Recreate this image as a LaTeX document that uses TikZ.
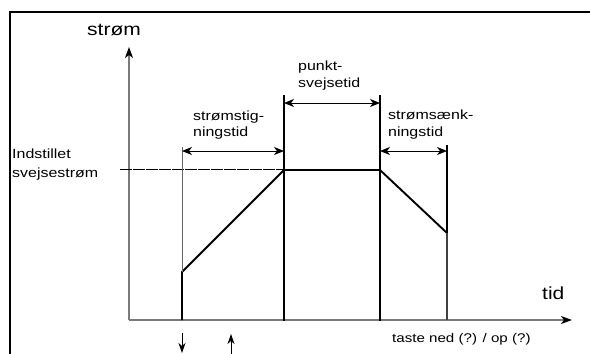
\documentclass[tikz,border=0pt]{standalone}
\usepackage{fontspec}
\setmainfont{Liberation Sans}[FakeStretch=1.2]
\usetikzlibrary{arrows.meta}
\definecolor{axisgray}{HTML}{7A7A7A}
\begin{document}
\begin{tikzpicture}[x=1pt,y=-1pt,
  axisline/.style={draw=axisgray,line width=1.4pt},
  axistip/.style={-{Stealth[length=11pt,width=8pt,inset=3pt,color=black]}},
  heavy/.style={line width=1.9pt,line cap=rect},
  guide/.style={draw=black!60,line width=0.6pt},
  dimline/.style={line width=1pt,{Stealth[length=10pt,width=8pt,inset=3pt]}-{Stealth[length=10pt,width=8pt,inset=3pt]}},
  marker/.style={line width=1pt,-{Stealth[length=10pt,width=7pt,inset=3pt]}},
  lbl/.style={inner sep=0pt,anchor=base west,font=\fontsize{13.3}{16}\selectfont},
  biglbl/.style={inner sep=0pt,anchor=base west,font=\fontsize{17.5}{20}\selectfont}]
\useasboundingbox (0,0) rectangle (590,354);

% frame
\draw[line width=1.6pt] (10,354) -- (10,12) -- (590,12);

% axes
\coordinate (O) at (129,320);
\coordinate (ytop) at (129,47);
\coordinate (xend) at (572,320);
\draw[axisline,axistip] (O) -- (ytop);
\draw[axisline,axistip] (O) -- (xend);
\node[biglbl] (ylab) at (87,35) {strøm};
\node[biglbl] (xlab) at (542,299) {tid};

% set level
\coordinate (setL) at (120,169.5);
\coordinate (setR) at (284,169.5);
\draw[line width=0.8pt,dash pattern=on 12pt off 1pt] (setL) -- (setR);
\node[lbl] (set1) at (12,158) {Indstillet};
\node[lbl] (set2) at (12,177) {svejsestrøm};

% current profile
\coordinate (p0) at (182,320);
\coordinate (p1) at (182,272);
\coordinate (p2) at (284,170);
\coordinate (p3) at (380,170);
\coordinate (p4) at (447,233);
\coordinate (p5) at (447,320);
\draw[line width=1.9pt,line join=miter] (p0) -- (p1) -- (p2) -- (p3) -- (p4);

% phase boundaries
\coordinate (b1) at (182,147);
\coordinate (b2t) at (284,96);
\coordinate (b2b) at (284,320);
\coordinate (b3t) at (380,96);
\coordinate (b3b) at (380,320);
\coordinate (b4) at (447,146);
\draw[guide] (b1) -- (p1);
\draw[heavy] (b2t) -- (b2b);
\draw[heavy] (b3t) -- (b3b);
\draw[heavy] (b4) -- (p4);
\draw[line width=1.6pt,draw=black!75] (p4) -- (p5);

% durations
\coordinate (d1a) at (182,151);
\coordinate (d1b) at (284,151);
\coordinate (d2a) at (284,103);
\coordinate (d2b) at (380,103);
\coordinate (d3a) at (380,151);
\coordinate (d3b) at (447,151);
\draw[dimline] (d1a) -- (d1b);
\draw[dimline] (d2a) -- (d2b);
\draw[dimline] (d3a) -- (d3b);
\node[lbl] (rise1) at (193,120) {strømstig-};
\node[lbl] (rise2) at (193,136) {ningstid};
\node[lbl] (spot1) at (298,70) {punkt-};
\node[lbl] (spot2) at (298,87) {svejsetid};
\node[lbl] (fall1) at (388,119) {strømsænk-};
\node[lbl] (fall2) at (388,136) {ningstid};

% trigger
\node[inner sep=0pt,anchor=base west,font=\fontsize{12.6}{15}\selectfont] (key) at (392,342) {taste ned (?) / op (?)};
\coordinate (dn1) at (182,333);
\coordinate (dn2) at (182,353);
\coordinate (up1) at (231,354);
\coordinate (up2) at (231,334);
\draw[marker] (dn1) -- (dn2);
\draw[marker] (up1) -- (up2);
\end{tikzpicture}
\end{document}
